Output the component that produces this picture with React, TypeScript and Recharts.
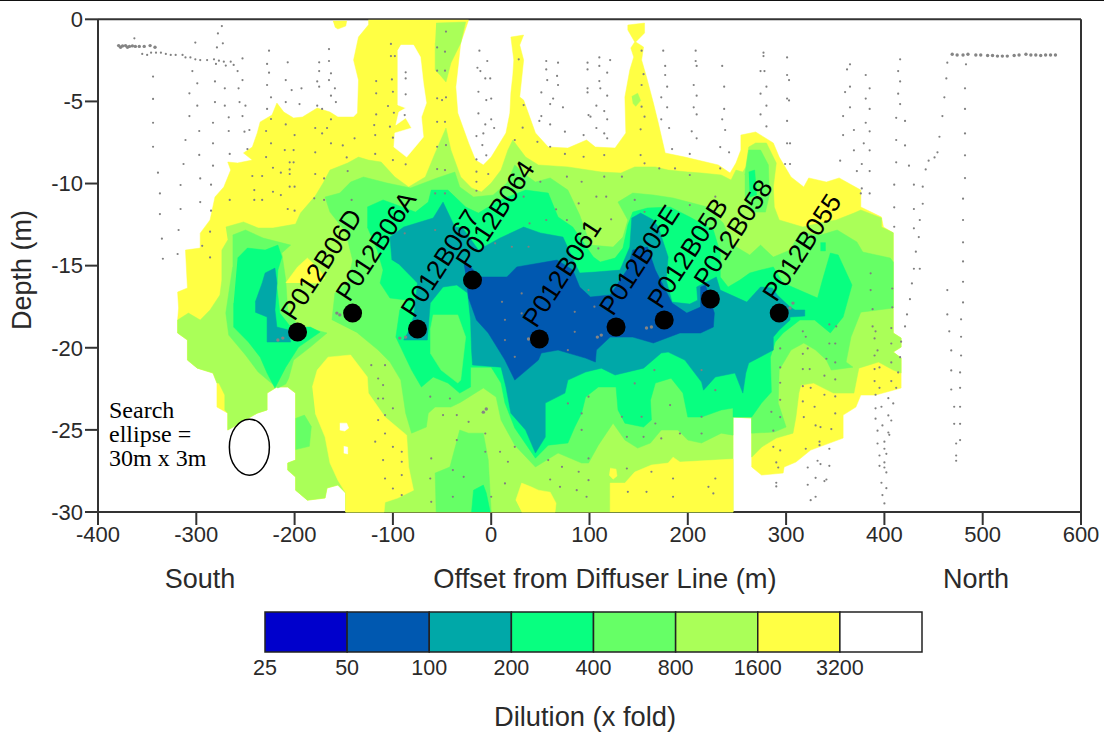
import React from 'react';
import { ScatterChart, Scatter, XAxis, YAxis, BarChart, Bar } from 'recharts';

type Pt = [number, number];

const offsetTicks = [-400, -300, -200, -100, 0, 100, 200, 300, 400, 500, 600];
const depthTicks = [0, -5, -10, -15, -20, -25, -30];
const dilutionLevels = ['25', '50', '100', '200', '400', '800', '1600', '3200'];
const bandColors = ['#0000cc', '#0058b0', '#00a8a8', '#08ff80', '#66ff66', '#aaff58', '#ffff44', '#ffffff'];

const BLUE = bandColors[1], TEAL = bandColors[2], SPRING = bandColors[3];
const GREEN = bandColors[4], LIME = bandColors[5], YELLOW = bandColors[6], WHITE = bandColors[7];

// contour outlines, [offset m, depth m]
const yellowOuter: Pt[] = [[-125,-0.05],[-23,-0.05],[-31,-1.44],[-36,-4.12],[-34,-5.71],[-23,-7.53],[-16,-8.57],[-8,-8.87],[0,-8.39],[15,-6.92],[19,-5.71],[20,-4.49],[22,-3.39],[23,-2.48],[20,-1.08],[33,-0.96],[29,-1.57],[33,-2.48],[29,-4.73],[33,-4.92],[45,-6.92],[58,-7.78],[78,-7.84],[97,-7.35],[106,-7.78],[126,-7.84],[137,-6.92],[136,-4.73],[141,-3.09],[145,-2.3],[142,-1.75],[146,-1.38],[139,-0.65],[139,-0.35],[156,-0.23],[156,-0.83],[147,-1.38],[155,-1.69],[153,-2.48],[158,-3.51],[165,-5.1],[170,-6.32],[177,-8.14],[197,-8.39],[231,-8.87],[243,-9.36],[249,-8.75],[254,-7.96],[254,-7.05],[269,-6.86],[287,-7.53],[293,-8.39],[305,-9.6],[318,-10.21],[323,-9.66],[341,-9.91],[354,-9.66],[376,-10.4],[376,-11.43],[397,-12.04],[399,-12.65],[409,-13],[409,-19.1],[417,-19.41],[417,-19.96],[409,-20.26],[417,-20.63],[417,-22.45],[391,-22.88],[376,-22.88],[371,-23.61],[358,-24.1],[358,-25.5],[325,-26.23],[310,-26.96],[298,-27.26],[297,-27.63],[275,-27.75],[265,-27.26],[265,-24.28],[246,-24.22],[246,-30],[-148,-30],[-148,-28.85],[-156,-28.36],[-167,-28.54],[-169,-29.15],[-187,-29.28],[-199,-28.67],[-199,-27.87],[-207,-27.45],[-207,-27.02],[-199,-26.84],[-199,-22.76],[-207,-22.39],[-218,-22.39],[-228,-22.76],[-228,-23.79],[-238,-23.98],[-268,-25.01],[-268,-23.98],[-279,-23.61],[-279,-22.15],[-283,-21.54],[-299,-21.24],[-309,-20.75],[-309,-19.53],[-319,-19.1],[-319,-18.31],[-318,-17.58],[-319,-16.61],[-309,-16.36],[-311,-14.05],[-296,-13.93],[-296,-13.02],[-286,-12.22],[-281,-10.82],[-272,-10.21],[-265,-9.18],[-268,-8.69],[-258,-8.75],[-243,-8.57],[-252,-8.14],[-243,-7.78],[-238,-6.92],[-235,-6.25],[-223,-5.83],[-218,-5.1],[-211,-5.65],[-201,-6.01],[-192,-5.95],[-177,-5.4],[-164,-5.65],[-156,-5.95],[-140,-5.95],[-136,-5.71],[-135,-3.7],[-140,-2.48],[-135,-1.08],[-125,-0.35]];
const yellowTopBlob: Pt[] = [[-161,-0.1],[-147,-0.1],[-148,-0.41],[-156,-0.59],[-159,-0.47]];
const limeOuter: Pt[] = [[-270,-12.65],[-252,-12.34],[-237,-12.71],[-222,-12.71],[-199,-12.47],[-194,-11.8],[-179,-10.76],[-171,-9.97],[-164,-9.18],[-146,-8.75],[-135,-8.39],[-125,-8.57],[-112,-8.69],[-98,-9.6],[-84,-10.21],[-67,-9.6],[-57,-8.14],[-46,-6.62],[-41,-7.96],[-31,-9.6],[-20,-10.27],[-10,-10.52],[0,-9.97],[10,-9.18],[17,-7.96],[22,-7.35],[35,-8.39],[48,-8.87],[78,-8.99],[112,-9.3],[132,-9.36],[146,-8.99],[167,-8.99],[180,-9.18],[200,-9.3],[214,-9.36],[234,-9.48],[244,-9.79],[249,-9.18],[256,-9.3],[259,-8.99],[262,-7.78],[269,-7.53],[280,-7.53],[290,-8.75],[287,-10.21],[288,-11.43],[293,-12.22],[317,-12.65],[334,-12.41],[351,-12.22],[369,-11.8],[376,-11.61],[397,-12.1],[397,-12.65],[409,-13],[409,-19.1],[417,-19.41],[417,-19.96],[409,-20.26],[417,-20.63],[417,-21.54],[409,-21.36],[394,-20.87],[374,-21.24],[369,-22.76],[348,-22.76],[328,-22.15],[315,-22.27],[313,-22.76],[310,-24.22],[307,-25.2],[290,-25.5],[275,-26.05],[265,-26.66],[265,-24.28],[246,-24.22],[246,-30],[-148,-30],[-148,-28.85],[-156,-28.36],[-167,-28.54],[-169,-29.15],[-187,-29.28],[-199,-28.67],[-199,-27.87],[-207,-27.45],[-207,-27.02],[-199,-26.84],[-199,-22.76],[-207,-22.39],[-218,-22.39],[-228,-22.76],[-228,-23.79],[-238,-23.98],[-268,-25.01],[-268,-23.98],[-271,-23.79],[-271,-22.88],[-277,-22.15],[-279,-22.15],[-283,-21.54],[-299,-21.24],[-309,-20.75],[-309,-19.53],[-319,-19.1],[-319,-18.31],[-308,-17.89],[-296,-18.31],[-286,-17.7],[-276,-16.79],[-274,-15.88],[-274,-14.05],[-268,-13.44]];
const limeTopStrip: Pt[] = [[-56,-0.23],[-26,-0.17],[-31,-1.44],[-41,-2.66],[-46,-3.82],[-52,-3.39],[-57,-3.09],[-57,-1.44]];
const limeSpot: Pt[] = [[143,-4.7],[149,-4.5],[152,-4.95],[147,-5.3],[144,-5.1]];
const yellowLeftColumn: Pt[] = [[-182,-22.4],[-177,-21.36],[-166,-20.57],[-143,-20.44],[-126,-21.78],[-125,-22.76],[-108,-24.22],[-86,-25.32],[-84,-27.26],[-79,-28.67],[-95,-29.15],[-108,-29.4],[-109,-30],[-148,-30],[-148,-28.85],[-156,-28.06],[-164,-27.02],[-169,-25.44],[-179,-23.98]];
const yellowMidBlob: Pt[] = [[25,-29.28],[31,-28.24],[41,-28.48],[48,-28.67],[60,-28.79],[66,-29.46],[65,-30],[31,-30]];
const yellowRightBlob: Pt[] = [[121,-30],[121,-28.24],[136,-28.24],[146,-27.57],[163,-27.14],[180,-27.02],[185,-26.66],[192,-26.96],[246,-26.78],[246,-30]];
const yellowDot: Pt[] = [[121,-27.33],[127,-27.39],[128,-27.81],[124,-28],[120,-27.75]];
const yellowWedge: Pt[] = [[-209,-16.06],[-197,-15.08],[-187,-14.54],[-176,-15.15],[-169,-15.76],[-176,-16.06],[-194,-16.06]];
const whiteHole: Pt[] = [[-95,-1.87],[-95,-5.22],[-87,-5.4],[-94,-5.65],[-97,-6.44],[-87,-6.01],[-81,-6.62],[-98,-6.92],[-99,-7.78],[-86,-8.39],[-74,-7.53],[-69,-7.17],[-71,-5.95],[-66,-5.1],[-69,-3.88],[-72,-2.3],[-79,-1.57],[-92,-1.57]];
const whiteSpotA: Pt[] = [[-154,-24.59],[-147,-24.59],[-145,-24.89],[-149,-25.07],[-154,-25.01]];
const whiteSpotB: Pt[] = [[-150,-26],[-146,-26.05],[-146,-26.47],[-150,-26.41]];
const greenLeft: Pt[] = [[-263,-13.14],[-250,-12.83],[-232,-13.32],[-204,-13.75],[-213,-14.23],[-209,-15.88],[-207,-17.7],[-197,-18.62],[-167,-19.1],[-184,-19.96],[-201,-20.75],[-206,-21.85],[-209,-22.21],[-217,-22.45],[-225,-22.09],[-237,-21.48],[-250,-20.44],[-267,-19.23],[-270,-17.89],[-263,-15.08]];
const greenMain: Pt[] = [[-162,-18.31],[-159,-16.67],[-146,-16.06],[-141,-14.66],[-148,-12.95],[-164,-11.74],[-169,-10.82],[-154,-10.58],[-143,-9.91],[-130,-9.6],[-106,-9.97],[-82,-10.27],[-55,-9.66],[-37,-9.3],[-32,-10.21],[-18,-10.82],[2,-10.7],[16,-9.97],[24,-8.87],[35,-9.48],[45,-9.91],[60,-9.66],[78,-10.4],[90,-11.92],[101,-13.75],[124,-13.87],[134,-13.26],[139,-12.22],[129,-11.13],[144,-10.58],[165,-10.7],[185,-10.88],[220,-11.43],[236,-12.41],[246,-13.75],[263,-14.35],[274,-13.75],[287,-14.48],[304,-14.05],[314,-13.01],[335,-13.14],[352,-12.83],[372,-13.56],[378,-14.17],[406,-14.54],[409,-14.78],[409,-17.58],[376,-17.83],[366,-19.35],[361,-20.87],[368,-21.18],[346,-21.36],[341,-20.75],[330,-20.14],[318,-19.71],[305,-20.14],[293,-21.36],[292,-23.37],[300,-24.83],[288,-25.13],[265,-25.2],[265,-24.22],[246,-24.22],[246,-25.32],[234,-25.2],[214,-25.8],[200,-25.62],[190,-25.01],[173,-25.01],[162,-25.8],[149,-26.11],[136,-25.62],[124,-24.59],[109,-25.93],[99,-27.02],[92,-27.02],[68,-26.41],[45,-27.26],[24,-25.93],[10,-24.4],[5,-23],[-8,-22.45],[-31,-23.31],[-41,-23.61],[-57,-23.61],[-64,-23.98],[-66,-24.83],[-81,-25.2],[-87,-23.98],[-92,-21.97],[-103,-20.87],[-115,-20.14],[-136,-19.1]];
const greenBottomColumn: Pt[] = [[-56,-30],[-57,-27.63],[-42,-27.26],[-32,-25.01],[-23,-25.2],[-8,-25.2],[-3,-26.84],[0,-30]];
const greenNorthColumn: Pt[] = [[258,-9.48],[262,-7.96],[274,-7.96],[282,-8.87],[283,-10.7],[279,-11.74],[265,-11.74],[258,-11]];
const greenSpot: Pt[] = [[-199,-24.3],[-190,-24.1],[-183,-24.8],[-185,-26],[-199,-26.2]];
const springLeft: Pt[] = [[-258,-14.54],[-248,-13.93],[-230,-14.05],[-217,-13.75],[-213,-14.48],[-217,-15.27],[-218,-16.3],[-215,-17.89],[-204,-18.74],[-184,-18.74],[-174,-19.04],[-196,-19.96],[-209,-21.18],[-220,-22.45],[-228,-21.54],[-235,-20.57],[-247,-19.65],[-262,-18.74],[-262,-17.28]];
const springMain: Pt[] = [[-126,-11.43],[-110,-11],[-96,-11.31],[-77,-11.74],[-64,-11.13],[-61,-10.4],[-44,-10.4],[-26,-11.43],[-13,-11.8],[9,-11],[35,-10.4],[58,-10.58],[68,-12.04],[83,-12.65],[104,-14.48],[111,-14.78],[126,-14.54],[134,-13.93],[139,-12.53],[144,-11.74],[159,-11.49],[182,-11.43],[202,-12.04],[226,-12.83],[233,-14.23],[233,-15.69],[241,-16.3],[253,-15.88],[263,-15.45],[274,-15.27],[287,-15.08],[297,-16.06],[332,-16.97],[337,-15.88],[345,-14.23],[353,-14.35],[367,-16.18],[358,-18.13],[345,-19.1],[329,-18.31],[314,-18.31],[297,-19.1],[289,-19.65],[284,-20.57],[285,-22.7],[275,-23.37],[265,-24.22],[246,-24.22],[246,-23.67],[234,-23.79],[214,-24.22],[200,-24.22],[195,-22.76],[183,-21.85],[167,-22.15],[162,-23.19],[163,-24.4],[155,-24.83],[136,-24.59],[129,-23.79],[127,-22.39],[109,-22.39],[96,-23],[92,-23.98],[85,-24.83],[78,-25.8],[58,-25.93],[45,-26.72],[24,-24.89],[14,-23.37],[10,-22.15],[0,-21.18],[-21,-21.18],[-21,-22.39],[-32,-22.76],[-44,-22.15],[-59,-21.78],[-71,-22.39],[-81,-21.36],[-97,-19.35],[-93,-17.7],[-85,-17.1],[-103,-16.97],[-113,-16.06],[-110,-15.27],[-116,-14.05],[-126,-12.65]];
const greenIsland: Pt[] = [[-62,-18.92],[-59,-18],[-34,-18],[-26,-19.35],[-31,-21.97],[-34,-22.15],[-51,-21.36],[-62,-20.32]];
const springBottom: Pt[] = [[-20,-30],[-18,-28.67],[-8,-28.36],[-5,-28.85],[-1,-30]];
const springNorth: Pt[] = [[262,-9.3],[268,-9.18],[270,-10.7],[263,-10.82]];
const springSpot: Pt[] = [[335,-13.6],[340,-13.6],[340,-14.1],[335,-14.1]];
const tealLeft: Pt[] = [[-240,-17.22],[-233,-16.06],[-230,-15.45],[-220,-15.15],[-218,-16.06],[-220,-17.7],[-218,-18.74],[-206,-18.92],[-204,-19.65],[-228,-19.65],[-228,-18.13],[-240,-17.83]];
const tealMain: Pt[] = [[-101,-14.66],[-103,-13.26],[-89,-12.65],[-59,-12.1],[-49,-11.13],[-37,-12.65],[-29,-12.71],[-13,-14.05],[9,-13.32],[33,-12.65],[50,-13.01],[73,-13.26],[85,-14.84],[90,-15.45],[106,-15.39],[131,-15.27],[141,-13.87],[143,-12.1],[152,-11.8],[165,-12.22],[170,-12.65],[180,-14.48],[178,-15.88],[184,-17.22],[202,-17.34],[210,-17.1],[209,-16.3],[229,-15.69],[233,-16.49],[260,-17.22],[274,-16.3],[286,-16.36],[291,-16.79],[304,-17.52],[309,-17.7],[319,-17.7],[319,-18.07],[304,-18.13],[304,-18.31],[293,-18.92],[287,-19.35],[287,-20.14],[262,-20.93],[259,-21.54],[256,-22.76],[248,-21.54],[228,-21.78],[216,-22.58],[214,-22.09],[197,-20.75],[180,-20.26],[173,-20.32],[155,-21.24],[126,-21.66],[112,-21.24],[96,-21.48],[78,-21.97],[75,-22.76],[55,-23.37],[55,-25.44],[45,-26.41],[35,-25.01],[20,-23.98],[15,-22.39],[10,-21.18],[-19,-21.05],[-20,-20.14],[-21,-18.31],[-24,-16.67],[-28,-16.49],[-35,-16.18],[-49,-16.3],[-62,-17.28],[-65,-19.53],[-89,-19.53],[-85,-19.1],[-79,-18.13],[-75,-16.06],[-93,-14.96]];
const blueMain: Pt[] = [[-28,-14.84],[-21,-15.08],[-11,-15.69],[16,-15.69],[26,-15.08],[67,-14.66],[83,-15.27],[90,-16.3],[101,-16.91],[121,-16.79],[138,-15.27],[144,-14.05],[159,-13.87],[167,-15.27],[184,-17.28],[199,-17.89],[213,-17.52],[213,-16.3],[218,-16.18],[227,-17.89],[226,-18.74],[213,-19.1],[192,-19.1],[165,-19.71],[144,-19.35],[121,-19.35],[107,-20.14],[106,-20.87],[96,-20.63],[68,-20.14],[51,-20.32],[48,-20.75],[24,-21.97],[14,-20.75],[-3,-19.1],[-15,-18.31],[-23,-16.97],[-26,-15.57]];

const contourLayers: [string, Pt[]][] = [
  [YELLOW, yellowOuter], [YELLOW, yellowTopBlob],
  [LIME, limeOuter], [LIME, limeTopStrip], [LIME, limeSpot],
  [YELLOW, yellowLeftColumn], [YELLOW, yellowMidBlob], [YELLOW, yellowRightBlob], [YELLOW, yellowDot],
  [WHITE, whiteHole], [WHITE, whiteSpotA], [WHITE, whiteSpotB],
  [GREEN, greenLeft], [GREEN, greenMain], [GREEN, greenBottomColumn], [GREEN, greenNorthColumn], [GREEN, greenSpot],
  [YELLOW, yellowWedge],
  [SPRING, springLeft], [SPRING, springMain], [SPRING, springBottom], [SPRING, springNorth], [SPRING, springSpot],
  [GREEN, greenIsland],
  [TEAL, tealLeft], [TEAL, tealMain],
  [BLUE, blueMain],
];

// sample positions along the tow-yo tracks
const samples: Pt[] = [[-363,-1.16],[-344,-3.49],[-344,-4.85],[-344,-6.3],[-344,-7.76],[-339,-9.34],[-337,-10.6],[-337,-11.86],[-335,-13.36],[-334,-14.58],[-304,-3.15],[-299,-3.9],[-307,-4.51],[-299,-5.26],[-307,-5.89],[-297,-6.8],[-311,-7.35],[-297,-8.26],[-313,-8.81],[-296,-9.69],[-316,-10.09],[-296,-11.13],[-316,-11.55],[-318,-12.83],[-319,-14.29],[-301,-1.42],[-281,-3.78],[-271,-4.2],[-281,-5.04],[-271,-5.26],[-267,-5.97],[-283,-6.3],[-267,-6.8],[-283,-7.55],[-266,-8.2],[-283,-8.91],[-285,-10.07],[-285,-11.65],[-286,-12.93],[-294,-13.79],[-286,-14.5],[-273,-1.46],[-279,-1.71],[-278,-0.86],[-274,-0.41],[-253,-2.38],[-258,-3.15],[-253,-3.7],[-257,-4.2],[-256,-5.04],[-250,-5.26],[-253,-5.89],[-246,-6.74],[-251,-6.84],[-248,-7.9],[-226,-1.91],[-228,-2.72],[-226,-3.25],[-228,-4],[-224,-4.75],[-228,-5.46],[-224,-6.07],[-229,-6.8],[-224,-7.55],[-229,-8.39],[-222,-9.04],[-233,-9.54],[-243,-9.54],[-241,-10.4],[-222,-10.5],[-214,-10.7],[-241,-11],[-233,-11],[-266,-11],[-207,-2.62],[-209,-3.7],[-203,-4.31],[-193,-4.2],[-209,-5.04],[-195,-5.16],[-209,-6.4],[-200,-7.05],[-201,-7.96],[-210,-7.96],[-205,-8.71],[-201,-8.71],[-205,-9.14],[-205,-9.42],[-214,-9.34],[-205,-10.19],[-200,-10.19],[-207,-11.55],[-200,-11.65],[-175,-2.62],[-165,-1.81],[-165,-2.54],[-175,-3.15],[-163,-3.29],[-177,-3.78],[-165,-3.7],[-175,-4.1],[-159,-4.2],[-163,-4.65],[-158,-5.04],[-177,-5.26],[-172,-5.46],[-163,-6.09],[-179,-6.62],[-167,-6.62],[-172,-6.95],[-139,-7.25],[-163,-7.55],[-179,-8.1],[-151,-7.68],[-147,-8.41],[-179,-9.42],[-170,-9.69],[-146,-9.24],[-170,-11],[-180,-10.9],[-142,-11],
[-355,-2.11],[-350,-2.17],[-346,-2.03],[-341,-2.03],[-336,-2.03],[-331,-2.11],[-326,-2.17],[-321,-2.17],[-314,-2.17],[-311,-2.32],[-306,-2.32],[-301,-2.44],[-296,-2.48],[-289,-2.48],[-282,-2.44],[-277,-2.52],[-272,-2.58],[-265,-2.58],[-262,-2.78],[-270,-2.82],[-280,-2.72],
[-12,-1.91],[-4,-2.54],[-14,-2.95],[-11,-3.15],[-6,-3.6],[-1,-3.6],[-13,-4.41],[-5,-4.92],[0,-4.83],[-13,-5.73],[0,-6.09],[-6,-6.4],[3,-6.62],[-8,-6.95],[-15,-7.11],[-9,-7.66],[-5,-8.28],[-15,-8.53],[56,-2.54],[68,-2.64],[56,-3.05],[67,-3.45],[57,-3.7],[68,-4],[51,-4.45],[63,-4.83],[60,-5.16],[73,-5.36],[51,-5.89],[49,-6.19],[60,-6.4],[75,-6.84],[98,-2.64],[98,-3.05],[110,-2.32],[110,-2.84],[121,-2.48],[118,-3.25],[110,-3.76],[98,-4.2],[98,-4.45],[111,-4.2],[118,-4.65],[107,-5.26],[115,-5.59],[99,-5.83],[101,-5.93],[118,-6.09],[107,-6.62],[115,-6.95],[94,-7.05],[118,-7.25],[175,-1.91],[208,-1.91],[177,-2.84],[208,-2.54],[209,-2.84],[177,-3.39],[235,-2.84],[179,-4.1],[206,-4],[237,-4.1],[173,-4.75],[209,-4.65],[179,-5.36],[206,-5.36],[237,-5.46],[173,-6.09],[209,-5.79],[235,-6.09],[181,-6.62],[204,-6.82],[238,-6.74],[209,-7.25],[184,-7.9],[233,-7.78],[202,-8.2],[242,-8.1],
[277,-2.03],[277,-2.24],[301,-2.32],[274,-3.15],[278,-3.15],[301,-3.39],[303,-3.7],[280,-4.1],[274,-4.53],[301,-4.83],[303,-4.94],[280,-5.26],[274,-5.79],[301,-6.19],[280,-6.52],[301,-7.55],[304,-7.55],[299,-8.81],[304,-8.81],[365,-2.74],[362,-3.05],[381,-3.39],[365,-4.1],[360,-4.43],[385,-4.2],[381,-4.83],[365,-5.36],[385,-5.46],[358,-5.89],[381,-6.3],[369,-6.74],[385,-6.82],[358,-7.05],[379,-7.55],[369,-7.98],[385,-7.98],[355,-8.61],[377,-8.81],[372,-9.24],[385,-9.24],[376,-10.6],[385,-10.6],[377,-10.3],[416,-2.44],[414,-3.15],[416,-3.78],[414,-4.53],[416,-5.16],[412,-6],[421,-6.19],[412,-7.35],[421,-7.68],[412,-8.71],[425,-8.91],[410,-10.07],[430,-10.07],[439,-10.19],[439,-11.23],[410,-11.45],[430,-11.55],[436,-12.22],[410,-12.63],[430,-12.73],[435,-13.26],[432,-14.15],[430,-15.19],[436,-15.19],[464,-2.64],[463,-3.6],[461,-4.75],[459,-5.89],[456,-7.15],[454,-8.1],[451,-8.41],[445,-8.61],[442,-9.14],[483,-2.74],[482,-4.2],[482,-5.46],[482,-6.95],[482,-8.28],[482,-9.67],[480,-10.92],[480,-12.22],[480,-13.58],[480,-14.74],
[480,-15.98],[464,-16.49],[480,-17.24],[464,-17.97],[478,-18.27],[466,-19],[478,-19.33],[468,-20.16],[478,-20.47],[468,-21.38],[477,-21.5],[468,-22.54],[477,-22.44],[471,-23.59],[477,-23.59],[471,-24.63],[477,-24.63],[477,-25.62],[473,-25.83],[473,-26.56],[473,-26.88],[428,-16.08],[426,-17.04],[423,-17.97],[421,-18.7],[417,-19.63],[416,-20.57],[404,-23.07],[409,-23.39],[397,-23.59],[391,-23.69],[404,-24.12],[391,-24.32],[407,-24.43],[398,-24.73],[393,-25.05],[404,-25.16],[405,-25.3],[400,-25.72],[393,-25.83],[400,-26.15],[402,-26.46],[395,-26.56],[400,-26.98],[395,-27.19],[400,-27.29],[402,-27.59],[397,-28.22],[402,-28.55],[398,-28.97],[400,-29.48],[332,-26.88],[335,-27.08],[344,-27.19],[322,-27.29],[330,-27.92],[341,-28.02],[339,-28.12],[322,-28.34],[330,-29.07],[325,-29.28],[290,-28.22],[290,-28.44],
[386,-15.47],[386,-16.49],[408,-16.39],[388,-17.65],[408,-17.54],[388,-18.7],[407,-18.8],[391,-19],[390,-19.43],[407,-19.74],[393,-20.16],[390,-20.47],[407,-20.89],[395,-21.2],[390,-21.3],[414,-21.5],[390,-22.03],[407,-22.03],[395,-22.44],[412,-22.44],[391,-22.86],[344,-18.58],[351,-18.7],[344,-19.74],[350,-19.74],[341,-20.67],[350,-20.89],[339,-21.7],[350,-21.93],[339,-22.86],[350,-22.96],[350,-24],[346,-24.95],[330,-24.73],[335,-24.83],[334,-25.72],[334,-25.93],[344,-26.15],[322,-20.04],[317,-20.37],[317,-21.3],[324,-21.3],[325,-22.44],[317,-22.34],[317,-23.27],[329,-23.59],[318,-24.22],[320,-19.33],[317,-19],[320,-26.15],[294,-21.2],[294,-22.13],[294,-23.17],[294,-24.22],[285,-23.9],[287,-25.05],[294,-26.25],[287,-26.03],[290,-26.98],[292,-27.29],[294,-20.04],
[-122,-21.06],[-108,-21.06],[-115,-21.87],[-110,-22.27],[-115,-23.09],[-110,-23.09],[-100,-23.69],[-108,-24.1],[-115,-24.4],[-108,-25.22],[-118,-25.72],[-100,-26.03],[-110,-26.84],[-91,-26.33],[-91,-26.94],[-108,-27.96],[-91,-27.75],[-100,-28.57],[-91,-28.97],[-61,-26.74],[-62,-27.96],[-61,-29.38],[-39,-27.45],[-39,-29.07],[-28,-27.86],[-35,-25.62],[-42,-23.09],[-35,-24.1],[-49,-24.1],[-62,-22.98],[-23,-24.51],[-6,-25.22],[-6,-26.33],[0,-29.07],[17,-26.94],[14,-28.26],[9,-26.33],[24,-26.03],[58,-26.84],[72,-27.25],[60,-28.02],[89,-27.55],[70,-28.47],[87,-28.67],[97,-29.07],[99,-28.06],[99,-26.74],[92,-25],[92,-24],[78,-23.39],[99,-22.98],[138,-25.42],[138,-27.35],[139,-28.77],[163,-27.55],[158,-28.77],[185,-27.96],[185,-29.07],[221,-28.47],[228,-27.96],[226,-28.87],[214,-25.22],[192,-25.22],[173,-25.52],[155,-25.42],[167,-24.61],[182,-23.49],[153,-24.2],[133,-24.2],[146,-22.17],[166,-21.36],[214,-21.36],[214,-24.2],[228,-22.58],[31,-16.69],[11,-17.2],[14,-18.3],[31,-17.91],[24,-20.55],[14,-19.53],[85,-17.81],[85,-19.03],[78,-20.14],[105,-17.5],[99,-16.49],
[-55,-1.71],[-47,-1.97],[-55,-3.13],[-47,-3.13],[-46,-0.75],[-55,-4.81],[-46,-4.75],[-50,-4.92],[-55,-6.24],[-47,-6.24],[-55,-7.76],[-46,-7.66],[-55,-9.12],[-47,-9.18],[-102,-1.5],[-102,-2.24],[-98,-2.24],[-117,-3.76],[-101,-3.66],[-117,-4.51],[-100,-4.41],[-105,-5.28],[-117,-5.79],[-99,-5.69],[-119,-6.44],[-103,-6.54],[-118,-7.05],[-100,-7.21],[-118,-8.2],[-100,-8.57],[-87,-8.83],[-87,-3.6],[-87,-4.57],[-87,-3.23],[-88,-5.83],[-15,-9.28],[-3,-9.42],[-15,-9.89],[-15,-10.44],[33,-5.22],[32,-6.6],[24,-7.35],[28,-2.44],[47,-7.46],[60,-7.76],[75,-8.2],[94,-8.37],[115,-8.27],[153,-5.32],[153,-4],[155,-3.34],[153,-1.91],[152,-6.7],[156,-5.93],[152,-8.27],[156,-8.77],[171,-9.08],[187,-9.08],[202,-9.48],[233,-9.08],[77,-9.58],[92,-9.89],[115,-9.58],[133,-9.58],[50,-9.89],[34,-9.89],[33,-10.8],[66,-11.57],[122,-12.18],[107,-10.8],[117,-10.8],[89,-11.21],[56,-12.22],[39,-12.43],[77,-12.22],[-57,-12.83],[-57,-10.6],[-47,-10.6],[-88,-13.03],[4,-13.64],[21,-13.85],[38,-13.85],[109,-13.95],[156,-11.72],[146,-11],[177,-11.41],[202,-11.31],[228,-10.8]];
// denser smudges: surface tracks and the spots beside the stations
const smears: Pt[] = [[-379,-1.6],[-377,-1.7],[-375,-1.62],[-372,-1.6],[-370,-1.7],[-368,-1.65],[-365,-1.62],[-362,-1.65],[-358,-1.65],[-353,-1.65],[-347,-1.6],[-342,-1.7],[469,-2.13],[474,-2.17],[480,-2.17],[485,-2.13],[493,-2.17],[498,-2.17],[505,-2.2],[510,-2.2],[515,-2.24],[520,-2.24],[525,-2.24],[532,-2.2],[537,-2.17],[544,-2.13],[549,-2.17],[554,-2.17],[559,-2.2],[564,-2.17],[569,-2.17],[574,-2.17],[-157,-17.89],[-154,-18],[-212,-19.41],[-217,-19.53],[-87,-19.35],[-93,-19.41],[38,-19.47],[42,-19.6],[112,-19.23],[108,-19.35],[163,-18.74],[158,-18.8],[307,-17.28],[304,-17.58],[-8,-23.92],[-5,-23.73]];

const stationNames = ['P012B06D', 'P012B06A', 'P012B067', 'P012B064', 'P012B061', 'P012B05E', 'P012B05B', 'P012B058', 'P012B055'];
const stationOffsets = [-197, -141, -75, -19, 49, 127, 176, 223, 293];
const stationDepths = [-19.04, -17.89, -18.86, -15.88, -19.47, -18.74, -18.31, -17.03, -17.89];
const stations = stationNames.map((name, i) => ({ name, x: stationOffsets[i], y: stationDepths[i] }));

const searchEllipse = [{ x: -246, y: -26.05 }];

const toRows = (pts: Pt[]) => pts.map(([x, y]) => ({ x, y }));
const bandRow = [Object.fromEntries(dilutionLevels.map((_, i) => [`b${i}`, 1]))];

const SANS = '"Liberation Sans", Arial, sans-serif';
const SERIF = '"Liberation Serif", "Times New Roman", serif';
const INK = '#2a2a2a';
const tickStyle = { fontSize: 22, fontFamily: SANS, fill: INK };
const axisLine = { stroke: '#333', strokeWidth: 2 };
const none = () => <g />;

const Dot = ({ cx, cy }: any) => <circle cx={cx} cy={cy} r={1.1} fill="#808080" />;
const Smear = ({ cx, cy }: any) => <circle cx={cx} cy={cy} r={1.7} fill="#858585" />;
const Station = ({ cx, cy, payload }: any) => (
  <g>
    <circle cx={cx} cy={cy} r={9.5} fill="#000" />
    <text
      x={cx - 3}
      y={cy - 10}
      transform={`rotate(-57 ${cx - 3} ${cy - 10})`}
      fontFamily={SANS}
      fontSize={26}
      fill="#000"
    >
      {payload.name}
    </text>
  </g>
);
const Ellipse = ({ cx, cy }: any) => (
  <ellipse cx={cx} cy={cy} rx={20} ry={28} fill="#fff" stroke="#000" strokeWidth={1.5} />
);

export default function App() {
  return (
    <div style={{ position: 'absolute', left: 0, top: 0, width: 1104, height: 734, background: '#fff', overflow: 'hidden' }}>
      <div style={{ position: 'absolute', left: 0, top: 0, width: 1104, height: 1, background: '#111' }} />
      <div style={{ position: 'absolute', left: 0, top: 0 }}>
        <ScatterChart width={1104} height={734} margin={{ top: 6.3, right: 10, bottom: 162, left: 38 }}>
          <XAxis xAxisId="b" dataKey="x" type="number" orientation="bottom" domain={[-400, 600]} ticks={offsetTicks} height={60} tickSize={13} tickMargin={1} tick={tickStyle} tickLine={axisLine} axisLine={axisLine} interval={0} />
          <XAxis xAxisId="t" dataKey="x" type="number" orientation="top" domain={[-400, 600]} ticks={offsetTicks} height={13} tickSize={13} tick={false} tickLine={axisLine} axisLine={axisLine} />
          <YAxis yAxisId="l" dataKey="y" type="number" orientation="left" domain={[-30, 0]} ticks={depthTicks} width={60} tickSize={13} tickMargin={2} tick={tickStyle} tickLine={axisLine} axisLine={axisLine} interval={0} />
          <YAxis yAxisId="r" dataKey="y" type="number" orientation="right" domain={[-30, 0]} ticks={depthTicks} width={13} tickSize={13} tick={false} tickLine={axisLine} axisLine={axisLine} />

          {contourLayers.map(([fill, pts], i) => (
            <Scatter
              key={i}
              xAxisId="b"
              yAxisId="l"
              data={toRows(pts)}
              shape={none}
              line={{ fill, stroke: fill, strokeWidth: 0.5 }}
              lineJointType="linear"
              isAnimationActive={false}
            />
          ))}
          <Scatter xAxisId="b" yAxisId="l" data={toRows(samples)} shape={Dot} isAnimationActive={false} />
          <Scatter xAxisId="b" yAxisId="l" data={toRows(smears)} shape={Smear} isAnimationActive={false} />
          <Scatter xAxisId="b" yAxisId="l" data={stations} shape={Station} isAnimationActive={false} />
          <Scatter xAxisId="b" yAxisId="l" data={searchEllipse} shape={Ellipse} isAnimationActive={false} />

          <text x={22} y={270} transform="rotate(-90 22 270)" textAnchor="middle" dominantBaseline="central" fontFamily={SANS} fontSize={27} fill={INK}>Depth (m)</text>
          <text x={200} y={588} textAnchor="middle" fontFamily={SANS} fontSize={27} fill={INK}>South</text>
          <text x={605} y={588} textAnchor="middle" fontFamily={SANS} fontSize={27.3} fill={INK}>Offset from Diffuser Line (m)</text>
          <text x={976} y={588} textAnchor="middle" fontFamily={SANS} fontSize={27} fill={INK}>North</text>
          <text fontFamily={SERIF} fontSize={24} fill="#000">
            <tspan x={109} y={418}>Search</tspan>
            <tspan x={109} y={442}>ellipse =</tspan>
            <tspan x={109} y={466}>30m x 3m</tspan>
          </text>
        </ScatterChart>
      </div>
      <div style={{ position: 'absolute', left: 0, top: 600 }}>
        <BarChart
          width={1104}
          height={134}
          layout="vertical"
          data={bandRow}
          barCategoryGap={0}
          margin={{ top: 12, right: 182, bottom: 0, left: 265 }}
        >
          <XAxis
            type="number"
            domain={[0, 8]}
            ticks={dilutionLevels.map((_, i) => i)}
            tickFormatter={(v: number) => dilutionLevels[v]}
            height={82}
            axisLine={false}
            tickLine={false}
            tickMargin={2}
            tick={{ ...tickStyle, fontSize: 21.5 }}
            interval={0}
          />
          <YAxis type="category" hide />
          {dilutionLevels.map((_, i) => (
            <Bar key={i} dataKey={`b${i}`} stackId="scale" fill={bandColors[i]} stroke="#222" strokeWidth={1.5} isAnimationActive={false} />
          ))}
          <text x={585} y={126} textAnchor="middle" fontFamily={SANS} fontSize={27.3} fill={INK}>Dilution (x fold)</text>
        </BarChart>
      </div>
    </div>
  );
}
